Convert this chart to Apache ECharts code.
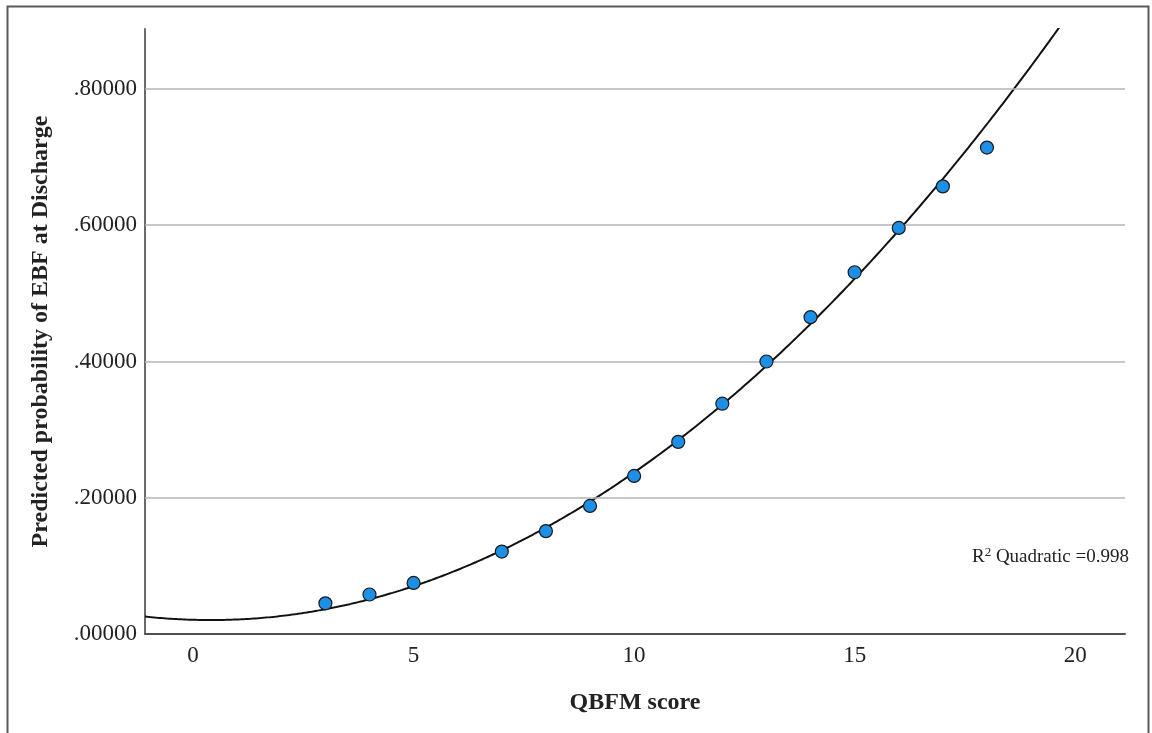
<!DOCTYPE html>
<html>
<head>
<meta charset="utf-8">
<script src="https://cdn.jsdelivr.net/npm/echarts@6/dist/echarts.min.js"></script>
<style>
html,body{margin:0;padding:0;background:#fff;}
#chart{width:1152px;height:733px;}
</style>
</head>
<body>
<div id="chart"></div>
<script>
const qbfmScores = [3, 4, 5, 7, 8, 9, 10, 11, 12, 13, 14, 15, 16, 17, 18];
const predictedProb = [0.045, 0.058, 0.075, 0.121, 0.151, 0.188, 0.232, 0.282, 0.338, 0.400, 0.465, 0.531, 0.596, 0.657, 0.714];

// Quadratic fit line coefficients (y = a + b*x + c*x^2)
const fitA = 0.02088;
const fitB = -0.00188;
const fitC = 0.00235;
const fitLabel = 'Quadratic =0.998';

// Axis ranges and tick labels
const xRange = [-1.09, 21.13];
const yRange = [0, 0.888];
const xTicks = [0, 5, 10, 15, 20];
const yTicks = [0, 0.2, 0.4, 0.6, 0.8];

const scatterData = qbfmScores.map((x, i) => [x, predictedProb[i]]);
const fitData = [];
const steps = 400;
for (let i = 0; i <= steps; i++) {
  const x = xRange[0] + (xRange[1] - xRange[0]) * i / steps;
  fitData.push([x, fitA + fitB * x + fitC * x * x]);
}

const serif = '"Liberation Serif", "Times New Roman", serif';
const chart = echarts.init(document.getElementById('chart'), null, {renderer: 'canvas'});
chart.setOption({
  animation: false,
  backgroundColor: '#ffffff',
  grid: {left: 145, top: 29, right: 27, bottom: 99},
  graphic: [
    {type: 'rect', shape: {x: 7.5, y: 6.5, width: 1141, height: 800},
     style: {fill: 'none', stroke: '#5a5a5a', lineWidth: 2}, silent: true, z: 0},
    {type: 'text', right: 23, top: 546,
     style: {
       text: '{r|R}{s|2}{t| ' + fitLabel + '}',
       rich: {
         r: {fontFamily: serif, fontSize: 19, fill: '#222', verticalAlign: 'bottom'},
         s: {fontFamily: serif, fontSize: 13, fill: '#222', verticalAlign: 'top', padding: [0, 0, 8, 0]},
         t: {fontFamily: serif, fontSize: 19, fill: '#222', verticalAlign: 'bottom'}
       }
     }, silent: true, z: 10}
  ],
  xAxis: {
    type: 'value', min: xRange[0], max: xRange[1],
    name: 'QBFM score', nameLocation: 'middle', nameGap: 57,
    nameTextStyle: {fontFamily: serif, fontSize: 24, fontWeight: 'bold', color: '#222'},
    axisLine: {show: true, onZero: false, lineStyle: {color: '#505050', width: 2}},
    axisTick: {show: false},
    splitLine: {show: false},
    axisLabel: {customValues: xTicks, formatter: v => String(v), fontFamily: serif, fontSize: 23, color: '#222', margin: 10}
  },
  yAxis: {
    type: 'value', min: yRange[0], max: yRange[1],
    name: 'Predicted probability of EBF at Discharge', nameLocation: 'middle', nameGap: 92, nameRotate: 90,
    nameTextStyle: {fontFamily: serif, fontSize: 24, fontWeight: 'bold', color: '#222'},
    axisLine: {show: true, onZero: false, lineStyle: {color: '#6a6a6a', width: 2}},
    axisTick: {show: false},
    splitLine: {show: false},
    axisLabel: {customValues: yTicks, formatter: v => '.' + v.toFixed(5).split('.')[1], fontFamily: serif, fontSize: 23, color: '#222', margin: 8}
  },
  series: [
    {
      type: 'scatter', data: [], z: 1, silent: true,
      markLine: {
        silent: true, symbol: ['none', 'none'], label: {show: false},
        lineStyle: {color: '#b4b4b4', width: 1.5, type: 'solid'},
        data: yTicks.filter(v => v > 0).map(v => ({yAxis: v}))
      }
    },
    {
      type: 'line', data: fitData, showSymbol: false, symbol: 'none', clip: true, z: 3,
      lineStyle: {color: '#111', width: 2}, silent: true
    },
    {
      type: 'scatter', data: scatterData, symbol: 'circle', symbolSize: 13, z: 5,
      itemStyle: {color: '#1e8fe6', borderColor: '#1a1a1a', borderWidth: 1.2, opacity: 1}
    }
  ]
});
</script>
</body>
</html>
